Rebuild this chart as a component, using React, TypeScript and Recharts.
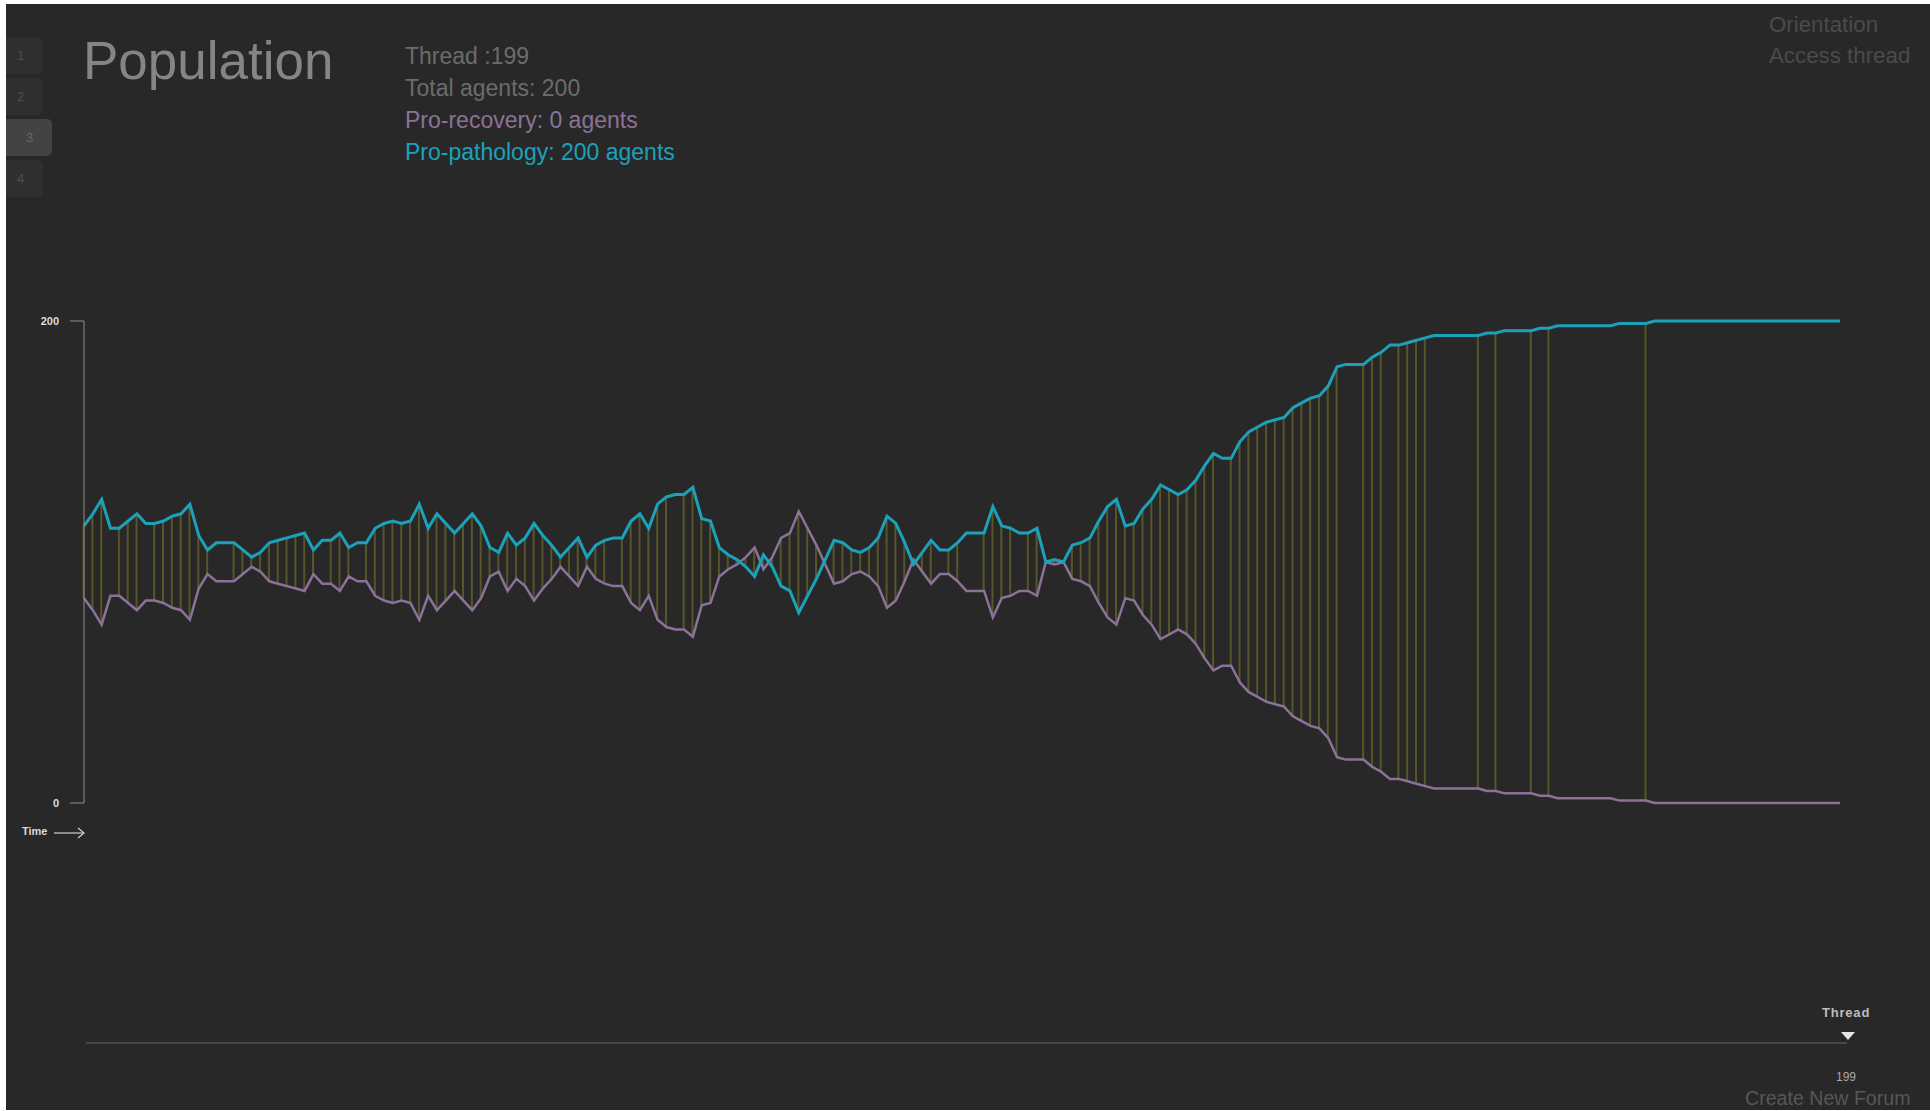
import { ComposedChart, Line, Bar, XAxis, YAxis } from "recharts";

const TOTAL_AGENTS = 200;
const CURRENT_THREAD = 199;

// pro-pathology agents per thread (0..199)
const PRO_PATHOLOGY = [
  115, 120, 126, 114, 114, 117, 120, 116, 116, 117,
  119, 120, 124, 111, 105, 108, 108, 108, 105, 102,
  104, 108, 109, 110, 111, 112, 105, 109, 109, 112,
  106, 108, 108, 114, 116, 117, 116, 117, 124, 114,
  120, 116, 112, 116, 120, 115, 106, 104, 112, 107,
  110, 116, 111, 107, 102, 106, 110, 102, 107, 109,
  110, 110, 117, 120, 114, 124, 127, 128, 128, 131,
  118, 117, 106, 103, 101, 98, 94, 103, 98, 90,
  88, 79, 86, 93, 101, 109, 108, 105, 104, 106,
  110, 119, 116, 108, 99, 104, 109, 105, 105, 108,
  112, 112, 112, 123, 115, 114, 112, 112, 114, 100,
  101, 100, 107, 108, 110, 117, 123, 126, 115, 116,
  122, 126, 132, 130, 128, 130, 134, 140, 145, 143,
  143, 150, 154, 156, 158, 159, 160, 164, 166, 168,
  169, 173, 181, 182, 182, 182, 185, 187, 190, 190,
  191, 192, 193, 194, 194, 194, 194, 194, 194, 195,
  195, 196, 196, 196, 196, 197, 197, 198, 198, 198,
  198, 198, 198, 198, 199, 199, 199, 199, 200, 200,
  200, 200, 200, 200, 200, 200, 200, 200, 200, 200,
  200, 200, 200, 200, 200, 200, 200, 200, 200, 200,
];

// the rest of the population is pro-recovery
const PRO_RECOVERY = PRO_PATHOLOGY.map((v) => TOTAL_AGENTS - v);

// threads where agents switched but no marker line is drawn
const UNMARKED_THREADS = [173];

const Y_TICKS = [0, 200];
const TABS = ["1", "2", "3", "4"];
const ACTIVE_TAB = "3";

const data = PRO_PATHOLOGY.map((p, i) => {
  const r = PRO_RECOVERY[i];
  const next = PRO_PATHOLOGY[i + 1];
  const marked = next !== undefined && next !== p && !UNMARKED_THREADS.includes(i);
  return {
    thread: i,
    pathology: p,
    recovery: r,
    band: marked ? [Math.min(p, r), Math.max(p, r)] : null,
  };
});

const FONT = '"Liberation Sans", Arial, Helvetica, sans-serif';
const TEAL = "#1ba2ba";
const PURPLE = "#8c7298";

export default function App() {
  return (
    <div style={{ position: "absolute", left: 0, top: 0, width: 1930, height: 1111, background: "#fff", fontFamily: FONT }}>
      <div style={{ position: "absolute", left: 6, top: 4, width: 1924, height: 1106, background: "#282828" }} />

      {TABS.map((t, i) => {
        const active = t === ACTIVE_TAB;
        return (
          <div
            key={t}
            style={{
              position: "absolute",
              left: 6,
              top: 37 + i * 41,
              width: active ? 46 : 37,
              height: 37,
              background: active ? "#434343" : "#2f2f2f",
              borderRadius: "0 5px 5px 0",
              color: active ? "#686868" : "#505050",
              fontSize: 13,
              lineHeight: "37px",
              paddingLeft: active ? 20 : 11,
              boxSizing: "border-box",
            }}
          >
            {t}
          </div>
        );
      })}

      <div style={{ position: "absolute", left: 83, top: 34, fontSize: 53, color: "#858585", lineHeight: 1 }}>
        Population
      </div>

      <div style={{ position: "absolute", left: 405, top: 40, fontSize: 23, lineHeight: "32px" }}>
        <div style={{ color: "#6c6c6c" }}>Thread :{CURRENT_THREAD}</div>
        <div style={{ color: "#6c6c6c" }}>Total agents: {TOTAL_AGENTS}</div>
        <div style={{ color: PURPLE }}>Pro-recovery: {PRO_RECOVERY[CURRENT_THREAD]} agents</div>
        <div style={{ color: TEAL }}>Pro-pathology: {PRO_PATHOLOGY[CURRENT_THREAD]} agents</div>
      </div>

      <div style={{ position: "absolute", left: 1769, top: 9, fontSize: 22.3, lineHeight: "31px", color: "#4b4b4b" }}>
        <div>Orientation</div>
        <div>Access thread</div>
      </div>

      <div style={{ position: "absolute", left: 0, top: 0 }}>
        <ComposedChart
          width={1930}
          height={1111}
          data={data}
          margin={{ top: 321, right: 90, bottom: 308, left: 44 }}
        >
          <XAxis dataKey="thread" type="number" domain={[0, 199]} hide />
          <YAxis
            width={40}
            domain={[0, 200]}
            ticks={Y_TICKS}
            tickSize={14}
            tickMargin={11}
            axisLine={{ stroke: "#8e8e8e" }}
            tickLine={{ stroke: "#8e8e8e" }}
            tick={{ fill: "#dddddd", fontSize: 11, fontWeight: "bold", fontFamily: FONT }}
          />
          <Bar dataKey="band" barSize={2} fill="#5a5528" isAnimationActive={false} />
          <Line
            type="linear"
            dataKey="recovery"
            stroke={PURPLE}
            strokeWidth={2.5}
            dot={false}
            activeDot={false}
            isAnimationActive={false}
          />
          <Line
            type="linear"
            dataKey="pathology"
            stroke={TEAL}
            strokeWidth={3}
            dot={false}
            activeDot={false}
            isAnimationActive={false}
          />
        </ComposedChart>
      </div>

      <div style={{ position: "absolute", left: 22, top: 825, fontSize: 11, fontWeight: "bold", color: "#d8d8d8" }}>
        Time
      </div>
      <svg style={{ position: "absolute", left: 52, top: 826 }} width={40} height={14}>
        <line x1={2} y1={7} x2={32} y2={7} stroke="#cfcfcf" strokeWidth={1.2} />
        <polyline points="26,2 32,7 26,12" fill="none" stroke="#cfcfcf" strokeWidth={1.2} />
      </svg>

      <div style={{ position: "absolute", left: 86, top: 1042, width: 1761, height: 2, background: "#474747" }} />
      <div style={{ position: "absolute", left: 1822, top: 1005, fontSize: 13, fontWeight: "bold", color: "#bdbdbd", letterSpacing: 0.8 }}>
        Thread
      </div>
      <svg style={{ position: "absolute", left: 1840, top: 1031 }} width={16} height={10}>
        <polygon points="1,1 15,1 8,9" fill="#e6e6e6" />
      </svg>
      <div style={{ position: "absolute", left: 1836, top: 1070, fontSize: 12, color: "#a8a8a8" }}>
        {CURRENT_THREAD}
      </div>
      <div style={{ position: "absolute", left: 1745, top: 1087, fontSize: 19.6, color: "#575757" }}>
        Create New Forum
      </div>
    </div>
  );
}
